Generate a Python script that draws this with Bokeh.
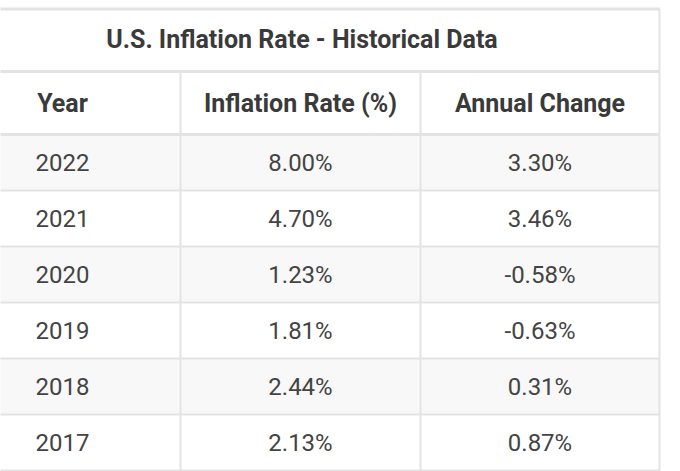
from bokeh.plotting import figure
from bokeh.models import Range1d
from bokeh.core.properties import value
from bokeh.embed import file_html
from bokeh.resources import INLINE

title = "U.S. Inflation Rate - Historical Data"
headers = ["Year", "Inflation Rate (%)", "Annual Change"]
years = [2022, 2021, 2020, 2019, 2018, 2017]
inflation = [8.00, 4.70, 1.23, 1.81, 2.44, 2.13]
change = [3.30, 3.46, -0.58, -0.63, 0.31, 0.87]

# layout (screen pixel coordinates)
W, H = 680, 471
col_edges = [-56, 180, 420, 659]
title_top, title_bot = 8, 71
head_bot = 134
row_h = 56

p = figure(width=W, height=H, output_backend="svg", toolbar_location=None,
           x_range=Range1d(0, W), y_range=Range1d(H, 0),
           min_border=0, outline_line_color=None)
p.axis.visible = False
p.grid.visible = False
p.background_fill_color = "white"

n = len(years)
row_tops = [head_bot + i * row_h for i in range(n)]
row_bots = [t + row_h for t in row_tops]

# striped rows
stripe = [i for i in range(n) if i % 2 == 0]
p.quad(left=[col_edges[0]] * len(stripe), right=[col_edges[-1]] * len(stripe),
       top=[row_tops[i] for i in stripe], bottom=[row_bots[i] for i in stripe],
       fill_color="#f8f8f8", line_color=None)

line_col = "#e3e3e3"
# horizontal lines
thin_y = row_bots
p.segment(x0=[col_edges[0]] * len(thin_y), x1=[col_edges[-1]] * len(thin_y),
          y0=thin_y, y1=thin_y, line_color=line_col, line_width=2)
thick_y = [title_top + 0.5, title_bot, head_bot]
p.segment(x0=[col_edges[0]] * 3, x1=[col_edges[-1]] * 3, y0=thick_y, y1=thick_y,
          line_color=line_col, line_width=3)
# vertical lines
p.segment(x0=col_edges[1:3], x1=col_edges[1:3], y0=[title_bot] * 2, y1=[row_bots[-1]] * 2,
          line_color=line_col, line_width=2)
p.segment(x0=[col_edges[-1]], x1=[col_edges[-1]], y0=[title_top], y1=[row_bots[-1]],
          line_color=line_col, line_width=2)

centers = [(col_edges[i] + col_edges[i + 1]) / 2 for i in range(3)]
font = value("Roboto")

p.text(x=[(col_edges[0] + col_edges[-1]) / 2], y=[(title_top + title_bot) / 2 - 1], text=[title],
       text_font=font, text_font_style="bold", text_font_size="25px",
       text_color="#3a3a3a", text_align="center", text_baseline="middle")
p.text(x=centers, y=[(title_bot + head_bot) / 2] * 3, text=headers,
       text_font=font, text_font_style="bold", text_font_size="25px",
       text_color="#3a3a3a", text_align="center", text_baseline="middle")

cells_x, cells_y, cells_t = [], [], []
for i in range(n):
    yc = (row_tops[i] + row_bots[i]) / 2
    vals = [str(years[i]), f"{inflation[i]:.2f}%", f"{change[i]:.2f}%"]
    for j in range(3):
        cells_x.append(centers[j]); cells_y.append(yc); cells_t.append(vals[j])
p.text(x=cells_x, y=cells_y, text=cells_t, text_font=font, text_font_size="24px",
       text_color="#444444", text_align="center", text_baseline="middle")

open("out.html", "w").write(file_html(p, INLINE))
